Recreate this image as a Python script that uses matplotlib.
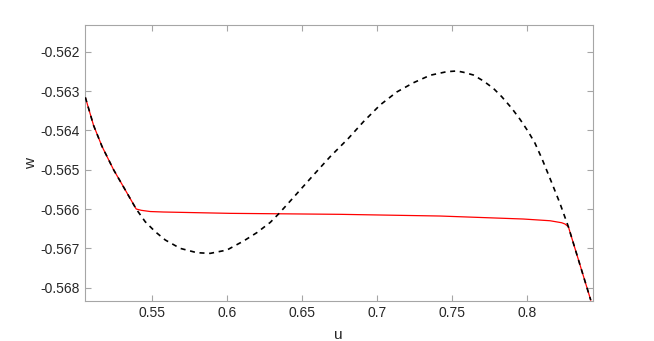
import numpy as np
import matplotlib
matplotlib.use('Agg')
import matplotlib.pyplot as plt

# dashed curve (black)
u_dash = [0.5056, 0.5111, 0.5167, 0.5244, 0.5311, 0.5395, 0.5455, 0.5522,
          0.5589, 0.5688, 0.5800, 0.5888, 0.5999, 0.6110, 0.6199, 0.6288,
          0.6343, 0.6410, 0.6465, 0.6576, 0.6687, 0.6809, 0.6909, 0.7020,
          0.7131, 0.7242, 0.7353, 0.7464, 0.7531, 0.7575, 0.7641, 0.7708,
          0.7774, 0.7830, 0.7897, 0.7952, 0.8007, 0.8052, 0.8097, 0.8152,
          0.8218, 0.8274, 0.8423]
w_dash = [-0.563160, -0.563875, -0.564407, -0.565000, -0.565442, -0.566000,
          -0.566323, -0.566577, -0.566788, -0.567000, -0.567111, -0.567127,
          -0.567043, -0.566814, -0.566600, -0.566340, -0.566127, -0.565845,
          -0.565610, -0.565136, -0.564670, -0.564202, -0.563780, -0.563355,
          -0.563025, -0.562790, -0.562600, -0.562509, -0.562491, -0.562524,
          -0.562593, -0.562745, -0.562931, -0.563144, -0.563439, -0.563720,
          -0.564034, -0.564329, -0.564711, -0.565225, -0.565855, -0.566450,
          -0.568314]

# red curve
u_red = [0.5056, 0.5111, 0.5167, 0.5244, 0.5311, 0.5395, 0.5429, 0.5489,
         0.5577, 0.6021, 0.6754, 0.7419, 0.7974, 0.8152, 0.8230, 0.8252,
         0.8274, 0.8423]
w_red = [-0.563160, -0.563875, -0.564407, -0.565000, -0.565442, -0.566000,
         -0.566033, -0.566064, -0.566076, -0.566110, -0.566135, -0.566178,
         -0.566254, -0.566298, -0.566349, -0.566382, -0.566450, -0.568314]

xticks = [0.55, 0.6, 0.65, 0.7, 0.75, 0.8]
xticklabels = ['0.55', '0.6', '0.65', '0.7', '0.75', '0.8']
yticks = [-0.568, -0.567, -0.566, -0.565, -0.564, -0.563, -0.562]

plt.rcParams['font.family'] = ['Liberation Sans', 'DejaVu Sans']

fig = plt.figure(figsize=(6.54, 3.41), dpi=100)
ax = fig.add_axes([0.13, 0.1173, 0.776, 0.8085])

ax.plot(u_red, w_red, color='#ff0000', lw=0.9, zorder=2)
ax.plot(u_dash, w_dash, color='black', lw=1.2, linestyle=(0, (3, 2.8)), zorder=3)

ax.set_xlim(0.5054, 0.8435)
ax.set_ylim(-0.568338, -0.56133)
ax.set_xticks(xticks)
ax.set_xticklabels(xticklabels)
ax.set_yticks(yticks)
ax.set_yticklabels([f'{v:.3f}' for v in yticks])

for s in ax.spines.values():
    s.set_color('#a6a6a6')
    s.set_linewidth(0.8)
ax.tick_params(direction='in', length=4, width=0.8, color='#a6a6a6',
               labelcolor='#262626', labelsize=10, top=True, right=True)

ax.set_xlabel('u', fontsize=11, color='#262626', labelpad=6)
ax.set_ylabel('w', fontsize=11, color='#262626', labelpad=2)

fig.savefig('out.png', dpi=100, facecolor='white')
